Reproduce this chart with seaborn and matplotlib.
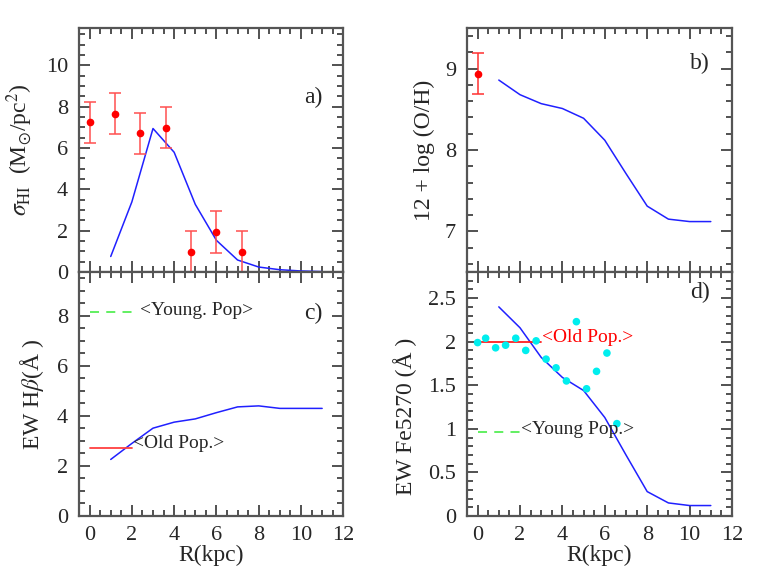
import numpy as np
import pandas as pd
import matplotlib
matplotlib.use("Agg")
import matplotlib.pyplot as plt
import seaborn as sns
from matplotlib.ticker import MultipleLocator

# ----- style -----
sns.set_style("ticks")
plt.rcParams["font.family"] = ["Liberation Serif", "DejaVu Serif"]
plt.rcParams["mathtext.fontset"] = "stix"
plt.rcParams["font.size"] = 15

# ----- data -----
r_model = [1, 2, 3, 4, 5, 6, 7, 8, 9, 10, 11]

# a) HI surface density
r_hi_obs = [0, 1.2, 2.4, 3.6, 4.8, 6.0, 7.2]
hi_obs = [7.23, 7.65, 6.71, 6.98, 0.97, 1.94, 0.97]
hi_err = [1.0, 1.0, 1.0, 1.0, 1.0, 1.0, 1.0]
hi_model = [0.75, 3.39, 6.94, 5.79, 3.27, 1.53, 0.58, 0.24, 0.11, 0.05, 0.02]

# b) oxygen abundance
r_oh_obs = [0]
oh_obs = [8.94]
oh_err = [0.25]
oh_model = [8.86, 8.68, 8.57, 8.51, 8.39, 8.12, 7.71, 7.31, 7.15, 7.12, 7.12]

# c) EW Hbeta
hb_model = [2.26, 2.90, 3.51, 3.75, 3.88, 4.13, 4.36, 4.40, 4.30, 4.30, 4.30]
hb_old = 2.72
hb_young = 8.16

# d) EW Fe5270
r_fe_obs = [0, 0.38, 0.85, 1.32, 1.80, 2.27, 2.76, 3.23, 3.70, 4.19, 4.66, 5.14, 5.61, 6.10, 6.57]
fe_obs = [1.99, 2.04, 1.93, 1.96, 2.04, 1.90, 2.01, 1.80, 1.70, 1.55, 2.23, 1.46, 1.66, 1.87, 1.06]
fe_model = [2.40, 2.16, 1.82, 1.59, 1.44, 1.13, 0.70, 0.28, 0.15, 0.12, 0.12]
fe_old = 2.0
fe_young = 0.96

df = pd.DataFrame({"R": r_model, "hi": hi_model, "oh": oh_model,
                   "hb": hb_model, "fe": fe_model})

RED = "#ff0000"
BLUE = "#2020ff"
GREEN = "#55ee55"
CYAN = "#00eeee"
SPINE = "#555555"
TICKFS = 16
LABFS = 17
TXTFS = 14

fig = plt.figure(figsize=(7.78, 5.81), dpi=100)
L1, R1 = 79 / 778, 343.3 / 778
L2, R2 = 467 / 778, 732 / 778
T, M, B = 1 - 28 / 581, 1 - 272 / 581, 1 - 516 / 581
ax_a = fig.add_axes([L1, M, R1 - L1, T - M])
ax_b = fig.add_axes([L2, M, R2 - L2, T - M])
ax_c = fig.add_axes([L1, B, R1 - L1, M - B])
ax_d = fig.add_axes([L2, B, R2 - L2, M - B])


def frame(ax, ymaj, ymin, show_x):
    ax.set_xlim(-0.5, 12)
    ax.xaxis.set_major_locator(MultipleLocator(2))
    ax.xaxis.set_minor_locator(MultipleLocator(0.5))
    ax.yaxis.set_major_locator(MultipleLocator(ymaj))
    ax.yaxis.set_minor_locator(MultipleLocator(ymin))
    ax.tick_params(which="both", direction="in", top=True, right=True,
                   color="#333333", width=1.2, labelsize=TICKFS)
    ax.tick_params(which="major", length=8)
    ax.tick_params(which="minor", length=4.5)
    ax.tick_params(axis="y", pad=8)
    ax.tick_params(axis="x", pad=7)
    for s in ax.spines.values():
        s.set_color(SPINE)
        s.set_linewidth(1.6)
    if not show_x:
        ax.tick_params(labelbottom=False)
        ax.set_xlabel("")
    else:
        ax.set_xlabel("R(kpc)", fontsize=LABFS, labelpad=0)


# a)
sns.lineplot(data=df, x="R", y="hi", ax=ax_a, color=BLUE, lw=1.1)
ax_a.errorbar(r_hi_obs, hi_obs, yerr=hi_err, fmt="o", color=RED, ms=4.5,
              ecolor="#ff5050", elinewidth=1.1, capsize=4, capthick=1.1)
ax_a.set_ylim(0, 11.8)
frame(ax_a, 2, 0.5, False)
ax_a.set_ylabel(r"$\sigma_{\rm HI}$  (M$_{\odot}$/pc$^2$)", fontsize=LABFS, labelpad=8)
ax_a.text(10.6, 8.45, "a)", fontsize=LABFS, ha="center", va="center")

# b)
sns.lineplot(data=df, x="R", y="oh", ax=ax_b, color=BLUE, lw=1.1)
ax_b.errorbar(r_oh_obs, oh_obs, yerr=oh_err, fmt="o", color=RED, ms=4.5,
              ecolor="#ff3030", elinewidth=1.1, capsize=4, capthick=1.1)
ax_b.set_ylim(6.5, 9.5)
frame(ax_b, 1, 0.2, False)
ax_b.set_ylabel("12 + log (O/H)", fontsize=LABFS, labelpad=7)
ax_b.text(10.5, 9.07, "b)", fontsize=LABFS, ha="center", va="center")

# c)
sns.lineplot(data=df, x="R", y="hb", ax=ax_c, color=BLUE, lw=1.1)
ax_c.plot([0, 2], [hb_old, hb_old], color="#ff4040", lw=1.3)
ax_c.plot([0, 2], [hb_young, hb_young], color=GREEN, lw=1.3, ls=(0, (5, 4)))
ax_c.text(2.05, 2.9, "<Old Pop.>", fontsize=TXTFS, va="center")
ax_c.text(2.4, 8.2, "<Young. Pop>", fontsize=TXTFS, va="center")
ax_c.set_ylim(0, 9.75)
frame(ax_c, 2, 0.5, True)
ax_c.set_ylabel("EW H$\\beta$(Å )", fontsize=LABFS, labelpad=8)
ax_c.text(10.6, 8.1, "c)", fontsize=LABFS, ha="center", va="center")

# d)
sns.lineplot(data=df, x="R", y="fe", ax=ax_d, color=BLUE, lw=1.1)
sns.scatterplot(x=r_fe_obs, y=fe_obs, ax=ax_d, color=CYAN, s=30,
                edgecolor="none", zorder=3)
ax_d.plot([0, 3], [fe_old, fe_old], color="#ff2020", lw=1.3)
ax_d.plot([0, 2], [fe_young, fe_young], color=GREEN, lw=1.3, ls=(0, (5, 4)))
ax_d.text(3.03, 2.05, "<Old Pop.>", fontsize=TXTFS, va="center", color=RED)
ax_d.text(2.04, 0.99, "<Young Pop.>", fontsize=TXTFS, va="center")
ax_d.set_ylim(0, 2.8)
frame(ax_d, 0.5, 0.1, True)
ax_d.yaxis.set_major_formatter(plt.FuncFormatter(lambda v, p: f"{v:g}"))
ax_d.set_ylabel("EW Fe5270 (Å )", fontsize=LABFS)
ax_d.yaxis.set_label_coords(-0.19, 0.41)
ax_d.text(10.5, 2.56, "d)", fontsize=LABFS, ha="center", va="center")

fig.savefig("out.png", dpi=100)
